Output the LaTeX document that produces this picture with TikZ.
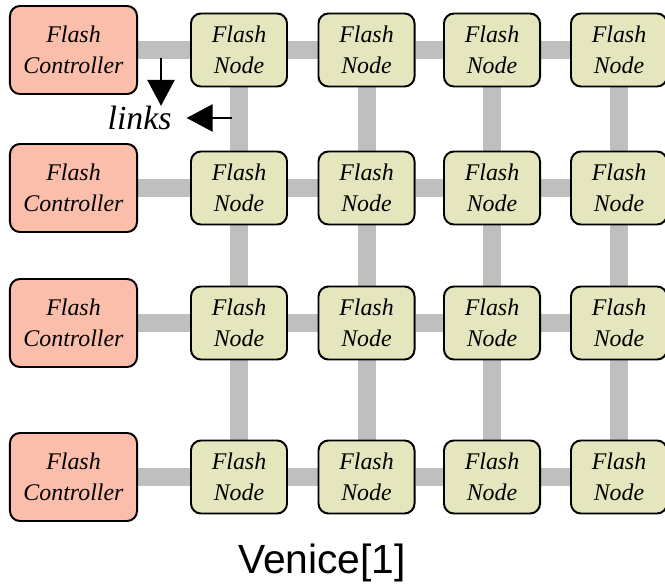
\documentclass[tikz,border=0pt]{standalone}
\usepackage{fontspec}
\setmainfont{Liberation Serif}
\newfontfamily\capfont{Liberation Sans}
\usepackage{xcolor}
\usetikzlibrary{arrows.meta,backgrounds}

\definecolor{ctrlfill}{RGB}{250,190,170}
\definecolor{nodefill}{RGB}{230,230,190}
\definecolor{linkgray}{RGB}{191,191,191}

\tikzset{
  boxbase/.style={draw, line width=1.4pt, rounded corners=0.25cm, align=center, inner sep=0pt,
    font=\fontsize{17}{22}\selectfont\itshape},
  ctrlbox/.style={boxbase, fill=ctrlfill, minimum width=3.175cm, minimum height=2.2cm},
  flashbox/.style={boxbase, fill=nodefill, minimum width=2.4cm, minimum height=1.825cm},
  link/.style={linkgray, line width=0.45cm},
  pointer/.style={line width=1.4pt, -{Triangle[length=0.65cm,width=0.68cm]}}
}

\begin{document}
\begin{tikzpicture}[x=0.025cm,y=-0.025cm]
\useasboundingbox (0,0) rectangle (665,584);
\foreach \r/\y in {1/50,2/188,3/323,4/477}{
  \node[ctrlbox] (C\r) at (73.5,\y) {Flash\\Controller};
  \foreach \c/\x in {1/239,2/366.5,3/492,4/619}
    \node[flashbox] (N\r\c) at (\x,\y) {Flash\\Node};
}
\begin{scope}[on background layer]
\foreach \r in {1,...,4}{
  \draw[link] (C\r) -- (N\r1);
  \foreach \c [count=\n from 2] in {1,2,3} \draw[link] (N\r\c) -- (N\r\n);
}
\foreach \c in {1,...,4}
  \foreach \r [count=\s from 2] in {1,2,3} \draw[link] (N\r\c) -- (N\s\c);
\end{scope}
% label for the links
\node[font=\fontsize{24}{28}\selectfont\itshape, inner xsep=0.375cm, inner ysep=0pt] (Links) at (139.5,118) {links};
\coordinate (DownStart) at (161,58);
\coordinate (LeftStart) at (232,118);
\draw[pointer] (DownStart) -- (DownStart |- Links.north);
\draw[pointer] (LeftStart) -- (Links.east);
\node[font=\capfont\fontsize{29}{34}\selectfont, anchor=base] (Title) at (322,573) {Venice[1]};
\end{tikzpicture}
\end{document}
